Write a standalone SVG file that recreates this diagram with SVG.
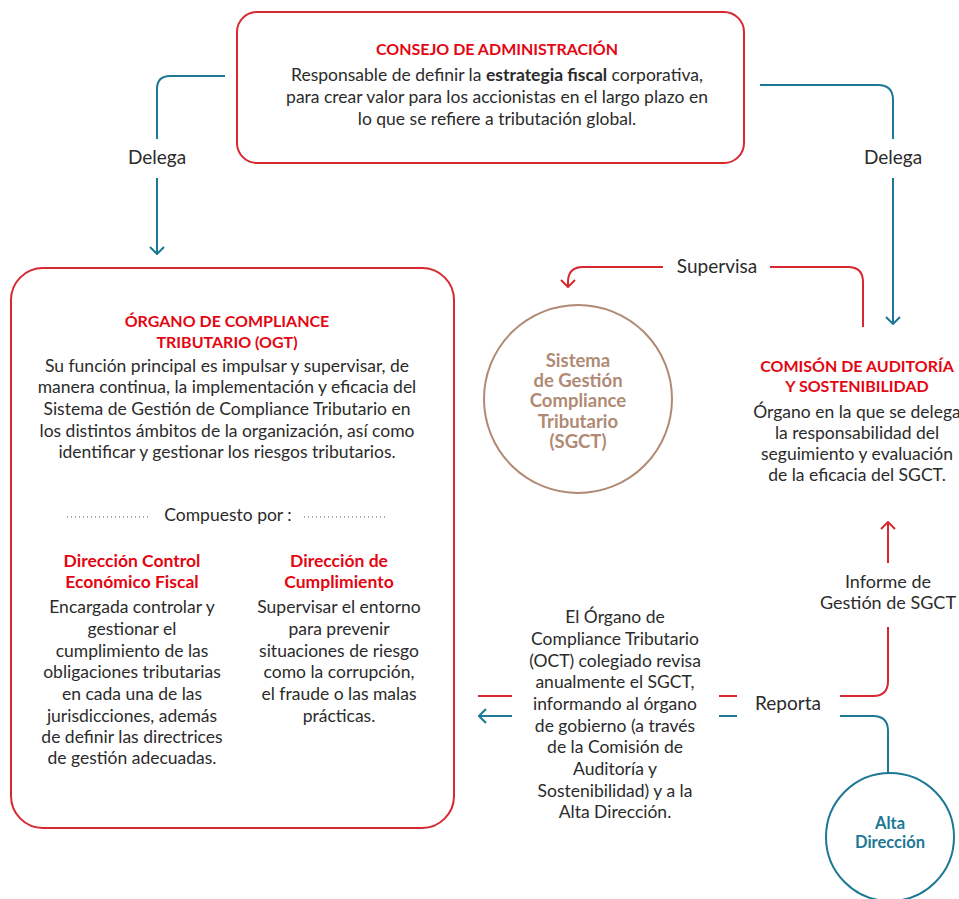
<svg xmlns="http://www.w3.org/2000/svg" width="959" height="899" viewBox="0 0 959 899">
<style>
text{font-family:Lato,"Open Sans","Liberation Sans",sans-serif;font-size:17.5px;fill:#2b2b2b;text-anchor:middle}
.t{fill:#e30613;font-weight:bold;font-size:16px}
.s{fill:#e30613;font-weight:bold;font-size:17.5px}
.b{font-weight:bold}
.lb{font-size:19px}
.lc{font-size:18px}
.box{fill:none;stroke:#d7282f;stroke-width:2}
.blue{fill:none;stroke:#1d7896;stroke-width:2}
.red{fill:none;stroke:#d7282f;stroke-width:2}
.br{fill:#b08a74;font-weight:bold;font-size:18.5px}
.bl{fill:#1d7896;font-weight:bold;font-size:16.5px}
.dot{stroke:#555;stroke-width:1;stroke-dasharray:1 3}
</style>
<defs>
<marker id="ab" viewBox="0 0 10 16" refX="9" refY="8" markerWidth="10" markerHeight="16" markerUnits="userSpaceOnUse" orient="auto">
<path d="M2 1 L9 8 L2 15" fill="none" stroke="#1d7896" stroke-width="2"/>
</marker>
<marker id="ar" viewBox="0 0 10 16" refX="9" refY="8" markerWidth="10" markerHeight="16" markerUnits="userSpaceOnUse" orient="auto">
<path d="M2 1 L9 8 L2 15" fill="none" stroke="#d7282f" stroke-width="2"/>
</marker>
</defs>

<g id="consejo">
<rect class="box" x="237" y="12" width="507" height="151" rx="20"/>
<text class="t" x="497" y="55">CONSEJO DE ADMINISTRACIÓN</text>
<text x="497" y="81">Responsable de definir la <tspan class="b">estrategia fiscal</tspan> corporativa,</text>
<text x="497" y="103">para crear valor para los accionistas en el largo plazo en</text>
<text x="497" y="125">lo que se refiere a tributación global.</text>
</g>

<g id="ogt">
<rect class="box" x="11" y="268" width="443" height="560" rx="32"/>
<text class="t" x="227" y="327">ÓRGANO DE COMPLIANCE</text>
<text class="t" x="227" y="348">TRIBUTARIO (OGT)</text>
<text x="227" y="372">Su función principal es impulsar y supervisar, de</text>
<text x="227" y="393">manera continua, la implementación y eficacia del</text>
<text x="227" y="415">Sistema de Gestión de Compliance Tributario en</text>
<text x="227" y="437">los distintos ámbitos de la organización, así como</text>
<text x="227" y="458">identificar y gestionar los riesgos tributarios.</text>
<line class="dot" x1="67" y1="517" x2="150" y2="517"/>
<line class="dot" x1="304" y1="517" x2="388" y2="517"/>
<text x="228" y="521">Compuesto por :</text>
<text class="s" x="132" y="567">Dirección Control</text>
<text class="s" x="132" y="588">Económico Fiscal</text>
<text x="132" y="613">Encargada controlar y</text>
<text x="132" y="635">gestionar el</text>
<text x="132" y="657">cumplimiento de las</text>
<text x="132" y="678">obligaciones tributarias</text>
<text x="132" y="700">en cada una de las</text>
<text x="132" y="722">jurisdicciones, además</text>
<text x="132" y="743">de definir las directrices</text>
<text x="132" y="764">de gestión adecuadas.</text>
<text class="s" x="339" y="567">Dirección de</text>
<text class="s" x="339" y="588">Cumplimiento</text>
<text x="339" y="613">Supervisar el entorno</text>
<text x="339" y="635">para prevenir</text>
<text x="339" y="657">situaciones de riesgo</text>
<text x="339" y="678">como la corrupción,</text>
<text x="339" y="700">el fraude o las malas</text>
<text x="339" y="722">prácticas.</text>
</g>

<g id="sgct">
<circle cx="578" cy="399" r="94" fill="none" stroke="#b08a74" stroke-width="2"/>
<text class="br" x="578" y="367">Sistema</text>
<text class="br" x="578" y="387">de Gestión</text>
<text class="br" x="578" y="407">Compliance</text>
<text class="br" x="578" y="428">Tributario</text>
<text class="br" x="578" y="448">(SGCT)</text>
</g>

<g id="comision">
<text class="t" x="857" y="372">COMISÓN DE AUDITORÍA</text>
<text class="t" x="857" y="392">Y SOSTENIBILIDAD</text>
<text x="857" y="418">Órgano en la que se delega</text>
<text x="857" y="439">la responsabilidad del</text>
<text x="857" y="460">seguimiento y evaluación</text>
<text x="857" y="481">de la eficacia del SGCT.</text>
</g>

<g id="alta">
<circle cx="890" cy="837" r="64" fill="none" stroke="#1d7896" stroke-width="2"/>
<text class="bl" x="890" y="829">Alta</text>
<text class="bl" x="890" y="848">Dirección</text>
</g>

<g id="reporte-texto">
<text x="615" y="623">El Órgano de</text>
<text x="615" y="645">Compliance Tributario</text>
<text x="615" y="667">(OCT) colegiado revisa</text>
<text x="615" y="688">anualmente el SGCT,</text>
<text x="615" y="710">informando al órgano</text>
<text x="615" y="732">de gobierno (a través</text>
<text x="615" y="753">de la  Comisión de</text>
<text x="615" y="775">Auditoría y</text>
<text x="615" y="797">Sostenibilidad) y a la</text>
<text x="615" y="818">Alta Dirección.</text>
</g>

<g id="connectors">
<path class="blue" d="M225 76 H170 Q157 76 157 89 V139"/>
<path class="blue" d="M157 178 V254" marker-end="url(#ab)"/>
<text class="lb" x="157" y="164">Delega</text>
<path class="blue" d="M760 85 H878 Q893 85 893 100 V139"/>
<path class="blue" d="M893 178 V324" marker-end="url(#ab)"/>
<text class="lb" x="893" y="164">Delega</text>
<path class="red" d="M863 327 V282 Q863 267 848 267 H770"/>
<path class="red" d="M663 267 H583 Q568 267 568 282 V287" marker-end="url(#ar)"/>
<text class="lb" x="717" y="273">Supervisa</text>
<path class="red" d="M888 563 V522" marker-end="url(#ar)"/>
<text class="lc" x="888" y="588">Informe de</text>
<text class="lc" x="888" y="609">Gestión de SGCT</text>
<path class="red" d="M888 627 V681 Q888 696 873 696 H840"/>
<path class="blue" d="M840 716 H873 Q888 716 888 731 V773"/>
<line class="red" x1="719" y1="696" x2="737" y2="696"/>
<line class="blue" x1="719" y1="716" x2="737" y2="716"/>
<text class="lb" x="788" y="710">Reporta</text>
<line class="red" x1="478" y1="696" x2="512" y2="696"/>
<path class="blue" d="M512 716 H479" marker-end="url(#ab)"/>
</g>
</svg>
